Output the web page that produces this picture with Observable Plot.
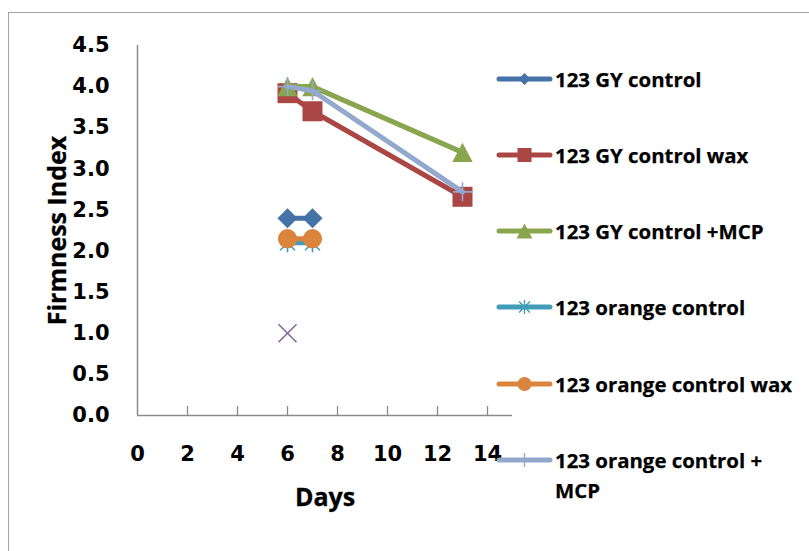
<!DOCTYPE html>
<html><head><meta charset="utf-8">
<script src="https://cdn.jsdelivr.net/npm/d3@7"></script>
<script src="https://cdn.jsdelivr.net/npm/@observablehq/plot@0.6"></script>
<style>
html,body{margin:0;padding:0;background:#fff;overflow:hidden}
#wrap{position:relative;width:809px;height:551px;overflow:hidden;background:#fff}
#frame{position:absolute;left:8px;top:12px;width:900px;height:700px;border:1px solid #a3a3a3;box-sizing:border-box}
#chart{position:absolute;left:0;top:0}
.item{position:absolute;left:494px;display:flex;align-items:flex-start}
.item svg{flex:none;display:block}
.item span{font-family:"Open Sans";font-weight:700;font-size:20.4px;line-height:30px;width:244px;color:#000;margin-left:1px;-webkit-text-stroke:0.25px #000}
</style></head><body>
<div id="wrap"><div id="frame"></div><div id="chart"></div><div id="legend"></div></div>
<script>
// ---- data ----
const seriesNames = ["123 GY control", "123 GY control wax", "123 GY control +MCP",
  "123 orange control", "123 orange control wax", "123 orange control + MCP", "Series7"];
const gyControlDays = [6, 7];
const gyControlValues = [2.4, 2.4];
const gyWaxDays = [6, 7, 13];
const gyWaxValues = [3.92, 3.7, 2.66];
const gyMcpDays = [6, 7, 13];
const gyMcpValues = [4.0, 4.0, 3.2];
const orangeControlDays = [6, 7];
const orangeControlValues = [2.1, 2.1];
const orangeWaxDays = [6, 7];
const orangeWaxValues = [2.15, 2.15];
const orangeMcpDays = [6, 7, 13];
const orangeMcpValues = [4.0, 3.95, 2.72];
const series7Days = [6];
const series7Values = [1.0];
const xTicks = [0, 2, 4, 6, 8, 10, 12, 14];
const yTicks = [0, 0.5, 1.0, 1.5, 2.0, 2.5, 3.0, 3.5, 4.0, 4.5];
const legendCount = 6;

// ---- styles ----
const colors = ["#4572A7", "#AA4643", "#89A54E", "#3F9DB8", "#DB843D", "#92A8CD", "#80699B"];
const mk = fn => ({draw(ctx, size) { fn(ctx, Math.sqrt(size / Math.PI)); }});
const symDiamond = mk((c, r) => { c.moveTo(0, -r); c.lineTo(r, 0); c.lineTo(0, r); c.lineTo(-r, 0); c.closePath(); });
const symSquare = mk((c, r) => { c.moveTo(-r, -r); c.lineTo(r, -r); c.lineTo(r, r); c.lineTo(-r, r); c.closePath(); });
const symTriangle = mk((c, r) => { c.moveTo(0, -r); c.lineTo(r * 1.06, r); c.lineTo(-r * 1.06, r); c.closePath(); });
const symCircle = mk((c, r) => { c.moveTo(r, 0); c.arc(0, 0, r, 0, 2 * Math.PI); c.closePath(); });
const symStar = mk((c, r) => { const t = r * 0.78; c.moveTo(0, -r); c.lineTo(0, r); c.moveTo(-t, -t); c.lineTo(t, t); c.moveTo(-t, t); c.lineTo(t, -t); });
const symPlus = mk((c, r) => { c.moveTo(0, -r); c.lineTo(0, r); c.moveTo(-r, 0); c.lineTo(r, 0); });
const symTimes = mk((c, r) => { const t = r * 0.95; c.moveTo(-t, -t); c.lineTo(t, t); c.moveTo(-t, t); c.lineTo(t, -t); });
const seriesStyle = [
  {sym: symDiamond, filled: true, r: 10, lr: 6},
  {sym: symSquare, filled: true, r: 10, lr: 7},
  {sym: symTriangle, filled: true, r: 9.6, lr: 7.5},
  {sym: symStar, filled: false, r: 9.5, lr: 7},
  {sym: symCircle, filled: true, r: 9.6, lr: 7},
  {sym: symPlus, filled: false, r: 9.5, lr: 7},
  {sym: symTimes, filled: false, r: 9.5, lr: 7}
];

const seriesData = [
  [gyControlDays, gyControlValues], [gyWaxDays, gyWaxValues], [gyMcpDays, gyMcpValues],
  [orangeControlDays, orangeControlValues], [orangeWaxDays, orangeWaxValues],
  [orangeMcpDays, orangeMcpValues], [series7Days, series7Values]
].map(([ds, vs], i) => ds.map((d, j) => ({series: seriesNames[i], day: d, value: vs[j]})));

const axisGray = "#8a8a8a";
const marks = [
  Plot.ruleY([0], {stroke: axisGray, strokeWidth: 1.5}),
  Plot.ruleX([0], {stroke: axisGray, strokeWidth: 1.5}),
  Plot.ruleX(xTicks.slice(1), {y1: 0, y2: 0.11, stroke: axisGray, strokeWidth: 1.3}),
  Plot.axisX(xTicks, {tickSize: 0, tickPadding: 31, fontSize: 21, fontWeight: "bold", fontFamily: "DejaVu Sans", fill: "#000", label: null}),
  Plot.axisY(yTicks, {tickSize: 0, tickPadding: 28, fontSize: 21, fontWeight: "bold", fontFamily: "DejaVu Sans", fill: "#000", label: null, tickFormat: d => d.toFixed(1)}),
  Plot.text(["Firmness Index"], {frameAnchor: "left", dx: -80, rotate: -90, textAnchor: "middle", lineAnchor: "middle", fontSize: 25, fontWeight: "bold", fontFamily: "Open Sans", fill: "#000", stroke: "#000", strokeWidth: 0.3}),
  Plot.text(["Days"], {frameAnchor: "bottom", dy: 82, textAnchor: "middle", lineAnchor: "middle", fontSize: 25, fontWeight: "bold", fontFamily: "Open Sans", fill: "#000", stroke: "#000", strokeWidth: 0.3})
];
seriesData.forEach((rows, i) => {
  const st = seriesStyle[i];
  if (rows.length > 1) marks.push(Plot.line(rows, {x: "day", y: "value", stroke: colors[i], strokeWidth: 5, strokeLinecap: "round", strokeLinejoin: "round"}));
  marks.push(Plot.dot(rows, {x: "day", y: "value", symbol: st.sym, r: st.r,
    fill: st.filled ? colors[i] : "none", stroke: st.filled ? "none" : colors[i], strokeWidth: 1.6}));
});

const chart = Plot.plot({
  width: 809, height: 551,
  marginLeft: 137, marginRight: 297, marginTop: 45, marginBottom: 136,
  x: {domain: [0, 15], label: null},
  y: {domain: [0, 4.5], label: null},
  style: {background: "transparent", overflow: "visible"},
  marks
});
document.getElementById("chart").append(chart);

// ---- legend ----
const legend = d3.select("#legend");
const legendTop = 78.5, legendStep = 76.3;
seriesNames.slice(0, legendCount).forEach((name, i) => {
  const st = seriesStyle[i];
  const item = legend.append("div").attr("class", "item").style("top", (legendTop + i * legendStep - 15) + "px");
  const svg = item.append("svg").attr("width", 60).attr("height", 30);
  svg.append("line").attr("x1", 5).attr("x2", 56).attr("y1", 15).attr("y2", 15)
    .attr("stroke", colors[i]).attr("stroke-width", 5).attr("stroke-linecap", "round");
  svg.append("path").attr("transform", "translate(30.5,15)")
    .attr("d", d3.symbol().type(st.sym).size(Math.PI * st.lr * st.lr)())
    .attr("fill", st.filled ? colors[i] : "none").attr("stroke", st.filled ? "none" : colors[i]).attr("stroke-width", 1.4);
  item.append("span").text(name);
});
</script>
</body></html>
